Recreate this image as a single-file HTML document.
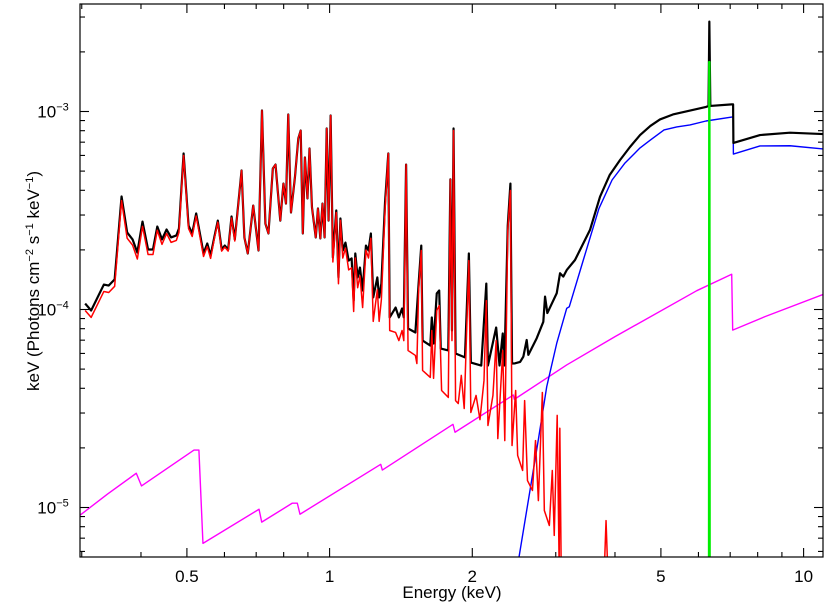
<!DOCTYPE html>
<html><head><meta charset="utf-8"><style>
html,body{margin:0;background:#fff;width:830px;height:609px;overflow:hidden;}
svg{display:block;font-family:"Liberation Sans",Arial,sans-serif;}
</style></head><body>
<svg id="chart" width="830" height="609" viewBox="0 0 830 609" xmlns="http://www.w3.org/2000/svg">
<defs><clipPath id="plotclip"><rect x="80" y="4" width="743" height="553"/></clipPath></defs>
<g id="series" clip-path="url(#plotclip)"></g>
<g id="axes"></g>
<text x="452" y="598" font-size="17" text-anchor="middle">Energy (keV)</text>
<text transform="translate(39,281) rotate(-90)" font-size="17" text-anchor="middle">keV (Photons cm<tspan font-size="11" dy="-6">−2</tspan><tspan dy="6"> s</tspan><tspan font-size="11" dy="-6">−1</tspan><tspan dy="6"> keV</tspan><tspan font-size="11" dy="-6">−1</tspan><tspan dy="6">)</tspan></text>
</svg>
<script>
// ---- data (energy in keV, flux as log10 keV Photons cm^-2 s^-1 keV^-1) ----
const softEnergy = [0.305,0.314,0.334,0.342,0.352,0.364,0.374,0.384,0.393,0.403,
0.414,0.424,0.433,0.443,0.453,0.463,0.475,0.481,0.492,0.504,
0.513,0.523,0.533,0.542,0.552,0.561,0.571,0.581,0.592,0.601,
0.611,0.621,0.631,0.652,0.661,0.672,0.690,0.708,0.720,0.732,
0.743,0.759,0.769,0.787,0.799,0.809,0.818,0.829,0.845,0.859,
0.869,0.878,0.887,0.898,0.907,0.918,0.935,0.945,0.956,0.966,
0.976,0.986,0.995,1.005,1.016,1.033,1.044,1.054,1.066,1.080,
1.097,1.113,1.124,1.133,1.146,1.159,1.174,1.193,1.208,1.222,
1.236,1.261,1.272,1.286,1.309,1.330];
const softTotalLogFlux = [-3.970,-4.005,-3.874,-3.879,-3.848,-3.429,-3.611,-3.646,-3.712,-3.556,
-3.697,-3.697,-3.581,-3.646,-3.596,-3.636,-3.626,-3.591,-3.212,-3.576,
-3.616,-3.515,-3.621,-3.717,-3.667,-3.727,-3.636,-3.551,-3.697,-3.677,
-3.697,-3.530,-3.646,-3.298,-3.636,-3.717,-3.475,-3.702,-2.995,-3.566,
-3.616,-3.288,-3.268,-3.551,-3.364,-3.465,-3.015,-3.510,-3.333,-3.136,
-3.096,-3.616,-3.232,-3.439,-3.187,-3.485,-3.636,-3.490,-3.641,-3.465,
-3.636,-3.086,-3.551,-3.020,-3.737,-3.500,-3.838,-3.540,-3.702,-3.662,
-3.753,-3.742,-3.955,-3.717,-3.838,-3.788,-3.904,-3.677,-3.702,-3.616,
-3.939,-3.838,-3.939,-3.869,-3.460,-3.212];
const softThermalLogFlux = [-4.005,-4.040,-3.909,-3.914,-3.883,-3.450,-3.640,-3.675,-3.745,-3.580,
-3.722,-3.722,-3.600,-3.671,-3.616,-3.661,-3.651,-3.611,-3.222,-3.591,
-3.631,-3.528,-3.636,-3.732,-3.682,-3.742,-3.644,-3.559,-3.705,-3.685,
-3.705,-3.538,-3.654,-3.298,-3.636,-3.717,-3.475,-3.702,-2.995,-3.566,
-3.616,-3.288,-3.268,-3.551,-3.364,-3.465,-3.015,-3.510,-3.333,-3.136,
-3.096,-3.616,-3.232,-3.439,-3.187,-3.485,-3.636,-3.490,-3.641,-3.465,
-3.636,-3.086,-3.551,-3.020,-3.760,-3.510,-3.870,-3.550,-3.740,-3.690,
-3.800,-3.790,-4.010,-3.740,-3.890,-3.830,-3.990,-3.700,-3.740,-3.640,
-4.060,-3.900,-4.060,-3.950,-3.500,-3.212];
const hardTotalEnergy = [1.339,1.378,1.400,1.422,1.434,1.450,1.464,1.517,1.541,1.561,1.571,1.631,1.643,1.657,1.683,1.703,1.716,1.780,1.798,1.812,1.826,1.844,1.930,1.967,1.986,2.089,2.141,2.158,2.246,2.283,2.319,2.338,2.376,2.407,2.426,
2.461,2.523,2.563,2.605,2.626,2.735,2.824,2.848,2.880,3.014,3.063,3.112,3.164,3.294,3.543,3.720,3.900,4.100,4.300,4.518,4.750,4.977,5.300,5.760,6.225,6.301,6.326,6.357,7.052,7.100,7.110,8.091,9.36,10.99,11.0];
const hardTotalLogFlux = [-4.040,-3.990,-4.040,-3.995,-4.040,-3.268,-4.096,-4.116,-3.869,-3.677,-4.157,-4.182,-4.040,-4.172,-3.919,-3.904,-4.197,-4.207,-3.343,-4.106,-3.086,-4.222,-4.242,-3.717,-4.268,-4.283,-3.869,-4.283,-4.091,-4.283,-4.121,-4.283,-3.576,-3.364,-4.273,
-4.272,-4.265,-4.238,-4.154,-4.229,-4.145,-4.062,-3.935,-4.018,-3.918,-3.817,-3.834,-3.801,-3.750,-3.598,-3.430,-3.320,-3.245,-3.180,-3.119,-3.073,-3.040,-3.015,-2.995,-2.977,-2.972,-2.546,-2.972,-2.964,-2.964,-3.159,-3.119,-3.107,-3.114,-3.114];
const hardThermalEnergy = [1.339,1.378,1.400,1.422,1.434,1.450,1.464,1.517,1.528,1.541,1.561,1.571,1.631,1.643,1.657,1.683,1.703,1.723,1.780,1.798,1.812,1.826,1.844,1.868,1.896,1.923,1.967,1.986,2.037,2.076,2.117,2.141,2.158,2.211,2.246,2.264,2.319,2.342,2.376,2.407,2.426,2.469,2.493,2.554,2.579,2.615,2.679,2.719,2.757,2.811,2.838,2.908,2.950,2.978,3.021,3.05,3.06,3.08,3.80,3.83,3.86,11.0];
const hardThermalLogFlux = [-4.106,-4.116,-4.157,-4.106,-4.157,-3.268,-4.207,-4.232,-4.273,-3.904,-3.702,-4.308,-4.343,-4.106,-4.348,-4.005,-3.980,-4.409,-4.444,-3.343,-4.157,-3.096,-4.460,-4.475,-4.333,-4.500,-3.753,-4.520,-4.434,-4.556,-4.359,-3.955,-4.586,-4.434,-4.157,-4.652,-4.207,-4.662,-3.601,-3.399,-4.687,-4.409,-4.737,-4.813,-4.460,-4.864,-4.914,-4.662,-4.965,-4.419,-5.015,-5.091,-4.813,-5.141,-4.535,-5.300,-4.600,-5.300,-5.300,-5.066,-5.300,-5.300];
const powerlawEnergy = [2.490,2.756,2.871,3.014,3.164,3.204,3.430,3.700,3.944,4.200,4.518,4.750,5.076,5.400,5.760,6.225,7.052,7.100,7.110,8.091,9.36,10.99,11.0];
const powerlawLogFlux = [-5.300,-4.659,-4.390,-4.171,-3.994,-3.986,-3.750,-3.490,-3.346,-3.260,-3.184,-3.144,-3.093,-3.078,-3.068,-3.048,-3.028,-3.028,-3.215,-3.174,-3.173,-3.189,-3.189];
const scatterEnergy = [0.296,0.340,0.391,0.401,0.5175,0.530,0.5405,0.7098,0.7191,0.8344,0.8548,0.8660,1.282,1.292,1.821,1.839,2.441,2.453,3.164,4.001,5.951,7.052,7.086,8.290,11.0];
const scatterLogFlux = [-5.043,-4.932,-4.827,-4.891,-4.710,-4.710,-5.181,-5.009,-5.074,-4.978,-4.978,-5.034,-4.782,-4.811,-4.580,-4.620,-4.432,-4.454,-4.280,-4.137,-3.905,-3.822,-4.104,-4.036,-3.924];
const lineEnergy = [6.314,6.322,6.330,6.338];
const lineLogFlux = [-5.3,-2.75,-2.75,-5.3];
const xMajorTicks = [0.5,1,2,5,10];
const xMajorLabels = ["0.5","1","2","5","10"];
const xMinorTicks = [0.3,0.4,0.6,0.7,0.8,0.9,3,4,6,7,8,9];
const yDecades = [-5,-4,-3];
const yDecadeLabels = ["−5","−4","−3"];

// ---- scales ----
const L=80,R=823,T=4,B=557;
function xScale(e){return 329.6+474*Math.log10(e);}
function yScale(lf){return 111.5-(lf+3)*198;}
const NS="http://www.w3.org/2000/svg";
const series=document.getElementById('series');
const axes=document.getElementById('axes');
function pathFrom(es,vs){let d='';for(let i=0;i<es.length;i++){d+=(i?'L':'M')+xScale(es[i]).toFixed(2)+' '+yScale(vs[i]).toFixed(2);}return d;}
function addLine(es,vs,color,w,name){
  const p=document.createElementNS(NS,'path');
  p.setAttribute('d',pathFrom(es,vs));
  p.setAttribute('fill','none');p.setAttribute('stroke',color);p.setAttribute('stroke-width',w);
  p.setAttribute('stroke-linejoin','round');
  
  
  series.appendChild(p);
}
addLine(scatterEnergy,scatterLogFlux,'#ff00ff',1.4,'magenta-powerlaw-series');
addLine(powerlawEnergy,powerlawLogFlux,'#0000ff',1.4,'blue-absorbed-powerlaw-series');
addLine(softEnergy.concat(hardTotalEnergy),softTotalLogFlux.concat(hardTotalLogFlux),'#000000',2.2,'black-total-model-series');
addLine(softEnergy.concat(hardThermalEnergy),softThermalLogFlux.concat(hardThermalLogFlux),'#ff0000',1.5,'red-thermal-series');
addLine(lineEnergy,lineLogFlux,'#00ee00',2.2,'green-iron-line-series');

function ln(x1,y1,x2,y2,name){
  const l=document.createElementNS(NS,'line');
  l.setAttribute('x1',x1);l.setAttribute('y1',y1);l.setAttribute('x2',x2);l.setAttribute('y2',y2);
  l.setAttribute('stroke','#000');l.setAttribute('stroke-width',1.1);
  
  
  axes.appendChild(l);
}
const frame=document.createElementNS(NS,'rect');
frame.setAttribute('x',L);frame.setAttribute('y',T);frame.setAttribute('width',R-L);frame.setAttribute('height',B-T);
frame.setAttribute('fill','none');frame.setAttribute('stroke','#000');frame.setAttribute('stroke-width',1.2);


axes.appendChild(frame);
xMajorTicks.forEach((e,i)=>{
  const x=xScale(e);
  ln(x,B,x,B-9,'x-major-tick');ln(x,T,x,T+9,'x-major-tick-top');
  const t=document.createElementNS(NS,'text');
  t.setAttribute('x',x);t.setAttribute('y',B+25);t.setAttribute('font-size','17');t.setAttribute('text-anchor','middle');
  t.textContent=xMajorLabels[i];
  
  
  axes.appendChild(t);
});
xMinorTicks.forEach(e=>{const x=xScale(e);ln(x,B,x,B-5,'x-minor-tick');ln(x,T,x,T+5,'x-minor-tick-top');});
yDecades.forEach((d,i)=>{
  const y=yScale(d);
  ln(L,y,L+9,y,'y-major-tick');ln(R,y,R-9,y,'y-major-tick-right');
  const t=document.createElementNS(NS,'text');
  t.setAttribute('x',53);t.setAttribute('y',y+6);t.setAttribute('font-size','17');t.setAttribute('text-anchor','middle');
  t.innerHTML='10<tspan font-size="11" dy="-7">'+yDecadeLabels[i]+'</tspan>';
  
  
  axes.appendChild(t);
  for(let m=2;m<=9;m++){
    const yy=yScale(d+Math.log10(m));
    if(yy>T&&yy<B){ln(L,yy,L+5,yy,'y-minor-tick');ln(R,yy,R-5,yy,'y-minor-tick-right');}
  }
  for(let m=5;m<=9;m++){
    const yy=yScale(d-1+Math.log10(m));
    if(d===-5&&yy>T&&yy<B){ln(L,yy,L+5,yy,'y-minor-tick');ln(R,yy,R-5,yy,'y-minor-tick-right');}
  }
});
</script>
</body></html>
